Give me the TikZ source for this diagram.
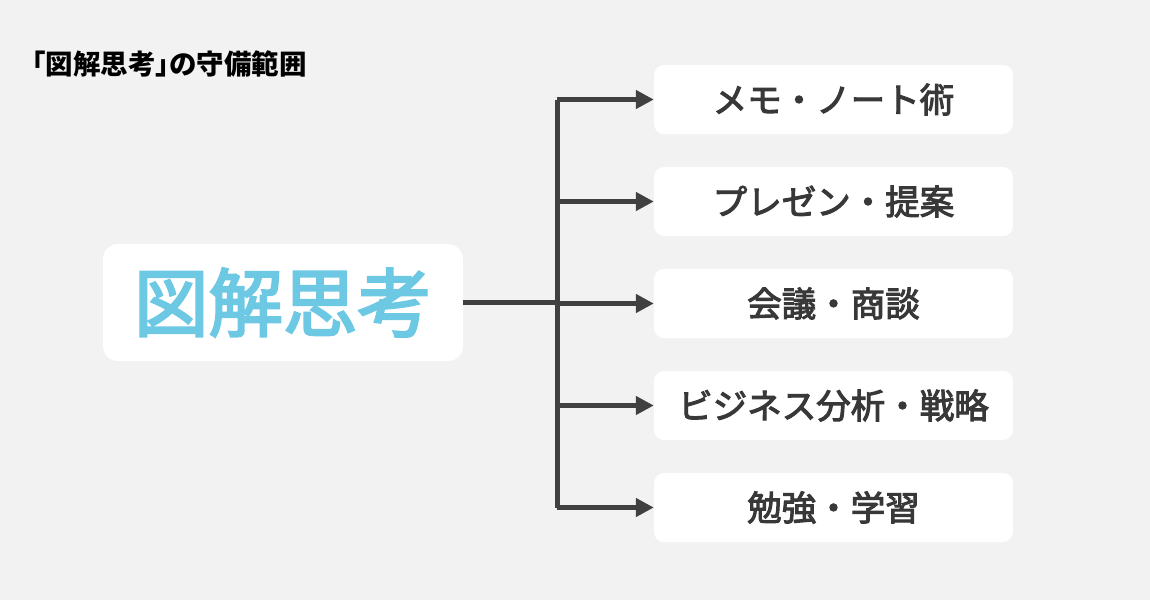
\documentclass[tikz,border=0pt]{standalone}
\usepackage{fontspec}
\setmainfont{Noto Sans CJK JP}
\newfontfamily\jpfont{Noto Sans CJK JP}[FakeBold=3]
\newfontfamily\jptitle{Noto Sans CJK JP}[RawFeature=+palt]
\usepackage{xcolor}
\definecolor{bgpage}{HTML}{F2F2F2}
\definecolor{textgrey}{HTML}{383838}
\definecolor{linegrey}{HTML}{404040}
\definecolor{skyblue}{HTML}{6DC9E3}
\usepackage{tikz}
\usetikzlibrary{arrows.meta,positioning}

\begin{document}
\begin{tikzpicture}[x=1pt, y=-1pt,
      rootbox/.style={rectangle, rounded corners=15pt, fill=white, text=skyblue, minimum width=360pt, minimum height=117pt, inner sep=0pt, font=\jpfont\fontsize{74.5}{80}\selectfont},
      leafbox/.style={rectangle, rounded corners=10pt, fill=white, text=textgrey, minimum width=359pt, minimum height=69pt, inner sep=0pt, font=\jpfont\fontsize{34.5}{40}\selectfont},
      conn/.style={linegrey, line width=5pt},
      arr/.style={-{Triangle[length=18pt, width=18pt]}, linegrey, line width=5pt}
    ]
      \fill[bgpage] (0,0) rectangle (1150,600);
      \node[anchor=west, inner sep=0pt, font=\jptitle\bfseries\fontsize{27.5}{30}\selectfont] (title) at (32,64) {「図解思考」の守備範囲};
      \node[rootbox] (root) at (283,302.5) {図解思考};
      \node[leafbox] (memo) at (833.5,99.5) {メモ・ノート術};
      \node[leafbox] (pres) at (833.5,201.5) {プレゼン・提案};
      \node[leafbox] (meet) at (833.5,303.5) {会議・商談};
      \node[leafbox] (biz) at (833.5,405.5) {ビジネス分析・戦略};
      \node[leafbox] (study) at (833.5,507.5) {勉強・学習};
      \coordinate (forktop) at (557,99.5);
      \coordinate (forkbot) at (557,507.5);
      \draw[conn] (forktop) -- (forkbot);
      \draw[conn] (root.east) -- (root.east -| forktop);
      \draw[arr] (memo.west -| forktop) -- (memo.west);
      \draw[arr] (pres.west -| forktop) -- (pres.west);
      \draw[arr] (meet.west -| forktop) -- (meet.west);
      \draw[arr] (biz.west -| forktop) -- (biz.west);
      \draw[arr] (study.west -| forktop) -- (study.west);
    \end{tikzpicture}
\end{document}
